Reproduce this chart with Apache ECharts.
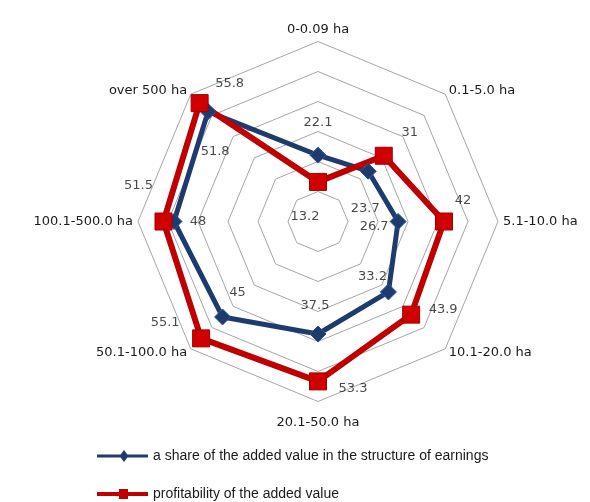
<!DOCTYPE html>
<html>
<head>
<meta charset="utf-8">
<script src="https://cdn.jsdelivr.net/npm/echarts@6/dist/echarts.min.js"></script>
<style>
html, body { margin: 0; padding: 0; background: #fff; }
#chart { width: 590px; height: 502px; }
</style>
</head>
<body>
<div id="chart"></div>
<script>
// farm size groups, clockwise from the top
var categories = ['0-0.09 ha', '0.1-5.0 ha', '5.1-10.0 ha', '10.1-20.0 ha', '20.1-50.0 ha', '50.1-100.0 ha', '100.1-500.0 ha', 'over 500 ha'];
var shareValues = [22.1, 23.7, 26.7, 33.2, 37.5, 45, 48, 51.8];
var profitValues = [13.2, 31, 42, 43.9, 53.3, 55.1, 51.5, 55.8];
var seriesNames = ['a share of the added value in the structure of earnings', 'profitability of the added value'];
var radarMax = 60;

// nudges (px) so the numbers sit where excel put them
var shareLabelOffset = [[0, -33], [-3, 37], [-24, 5], [-16, -15], [-3, -28], [15, -24], [24, 0], [7, 40]];
var profitLabelOffset = [[-13, 35], [26, -23], [19, -21], [32, -5], [35, 7], [-36, -16], [-25, -36], [30, -20]];

var blue = '#1F3B6E';
var red = '#C00000';
var center = [318, 221.5];
var radius = 180;

// radar lays indicators out counter-clockwise, the original goes clockwise
function ccw(arr) {
  return [arr[0]].concat(arr.slice(1).reverse());
}

function labelPoints(values, offsets) {
  return values.map(function (v, i) {
    return { value: [v, i * 360 / values.length], label: { offset: offsets[i] } };
  });
}

var chartDom = document.getElementById('chart');
var myChart = echarts.init(chartDom);

var option = {
  backgroundColor: '#fff',
  animation: false,
  legend: {
    orient: 'vertical',
    left: 97,
    top: 449,
    padding: 0,
    itemWidth: 51,
    itemHeight: 12,
    itemGap: 24,
    textStyle: { fontFamily: 'Liberation Sans', fontSize: 14, color: '#1a1a1a' },
    data: [
      { name: seriesNames[0], icon: 'path://M0,4.5H51V7.5H0Z M27,0L31.5,6L27,12L22.5,6Z', itemStyle: { color: blue, borderWidth: 0 } },
      { name: seriesNames[1], icon: 'path://M0,4H51V8H0Z M22,1H31V11H22Z M21,0H21.01V12H21Z', itemStyle: { color: red, borderWidth: 0 } }
    ]
  },
  radar: {
    center: center,
    radius: radius,
    startAngle: 90,
    splitNumber: 6,
    shape: 'polygon',
    nameGap: 5,
    indicator: ccw(categories).map(function (c) { return { name: c, min: 0, max: radarMax }; }),
    axisName: {
      color: '#1a1a1a',
      fontFamily: 'DejaVu Sans',
      fontSize: 13,
      formatter: function (name) {
        return name === categories[4] ? '{low|' + name + '}' : name;
      },
      rich: { low: { padding: [10, 0, 0, 0] } }
    },
    splitLine: { lineStyle: { color: '#A6A6A6', width: 1 } },
    splitArea: { show: false },
    axisLine: { show: false },
    axisTick: { show: false },
    axisLabel: { show: false }
  },
  polar: { center: center, radius: radius },
  angleAxis: { type: 'value', min: 0, max: 360, startAngle: 90, clockwise: true, show: false },
  radiusAxis: { type: 'value', min: 0, max: radarMax, show: false },
  series: [
    {
      type: 'radar',
      data: [
        {
          name: seriesNames[0],
          value: ccw(shareValues),
          symbol: 'diamond',
          symbolSize: 16,
          lineStyle: { color: blue, width: 5 },
          itemStyle: { color: blue, borderColor: '#2F5597', borderWidth: 1 }
        },
        {
          name: seriesNames[1],
          value: ccw(profitValues),
          symbol: 'rect',
          symbolSize: 17,
          lineStyle: { color: red, width: 6 },
          itemStyle: { color: '#D00000', borderColor: '#A00000', borderWidth: 1 }
        }
      ]
    },
    {
      type: 'scatter',
      name: 'shareLabels',
      coordinateSystem: 'polar',
      silent: true,
      symbolSize: 1,
      itemStyle: { color: 'transparent' },
      label: {
        show: true, position: 'inside', color: '#1a1a1a', fontFamily: 'DejaVu Sans', fontSize: 13,
        formatter: function (p) { return p.value[0]; }
      },
      data: labelPoints(shareValues, shareLabelOffset)
    },
    {
      type: 'scatter',
      name: 'profitLabels',
      coordinateSystem: 'polar',
      silent: true,
      symbolSize: 1,
      itemStyle: { color: 'transparent' },
      label: {
        show: true, position: 'inside', color: '#1a1a1a', fontFamily: 'DejaVu Sans', fontSize: 13,
        formatter: function (p) { return p.value[0]; }
      },
      data: labelPoints(profitValues, profitLabelOffset)
    }
  ]
};

option && myChart.setOption(option);
</script>
</body>
</html>
